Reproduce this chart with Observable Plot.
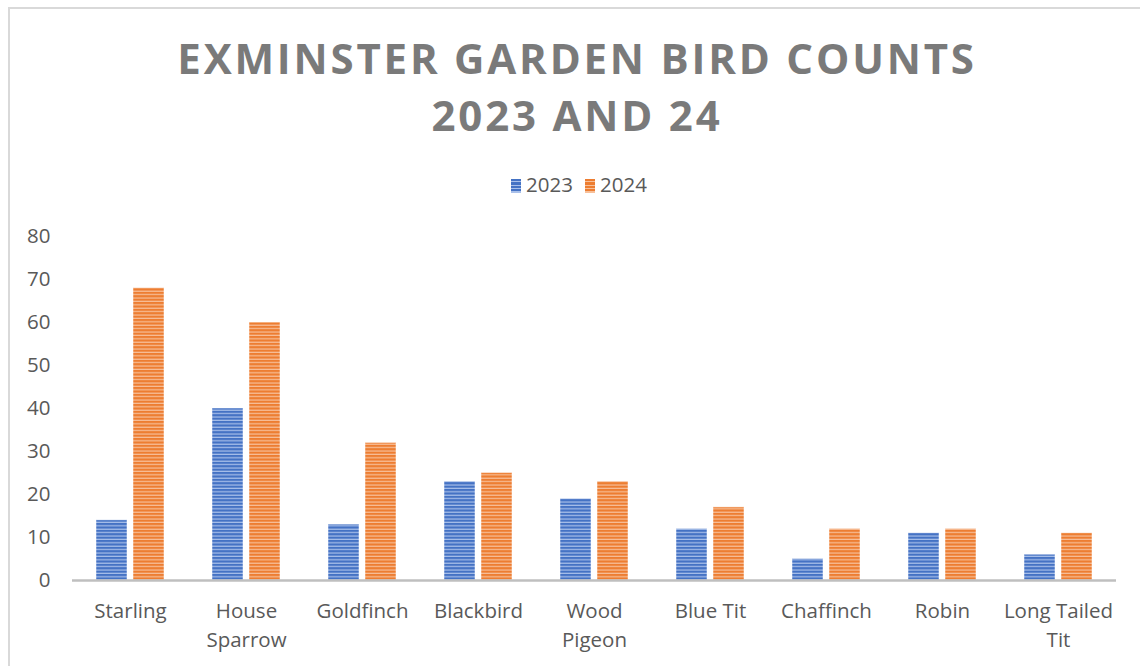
<!DOCTYPE html>
<html>
<head>
<meta charset="utf-8">
<script src="https://cdn.jsdelivr.net/npm/d3@7"></script>
<script src="https://cdn.jsdelivr.net/npm/@observablehq/plot@0.6"></script>
<style>
  html, body { margin: 0; padding: 0; background: #fff; width: 1140px; height: 666px; overflow: hidden; }
  #frame { position: absolute; left: 8px; top: 7px; width: 1200px; height: 700px; border-left: 2px solid #d9d9d9; border-top: 2px solid #d9d9d9; }
  #title { position: absolute; left: 8px; width: 1138px; top: 29px; text-align: center; font-family: "Open Sans", sans-serif; font-weight: 700; font-size: 42px; line-height: 57px; letter-spacing: 2.8px; color: #7a7a7a; }
  #legend { position: absolute; left: 10px; width: 1138px; top: 170px; text-align: center; font-family: "Open Sans", sans-serif; font-size: 20.5px; color: #595959; line-height: 28px; }
  #legend span.sw { display: inline-block; width: 10px; height: 14px; margin-right: 5px; vertical-align: -1px; }
  #legend span.item { margin: 0 6px; }
  #chart { position: absolute; left: 0; top: 200px; }
</style>
</head>
<body>
<div id="frame"></div>
<div id="title">EXMINSTER GARDEN BIRD COUNTS<br>2023 AND 24</div>
<div id="legend"></div>
<div id="chart"></div>
<script>
const categories = ["Starling", "House Sparrow", "Goldfinch", "Blackbird", "Wood Pigeon", "Blue Tit", "Chaffinch", "Robin", "Long Tailed Tit"];
const xLabels = ["Starling", "House\nSparrow", "Goldfinch", "Blackbird", "Wood\nPigeon", "Blue Tit", "Chaffinch", "Robin", "Long Tailed\nTit"];
const series = ["2023", "2024"];
const values2023 = [14, 40, 13, 23, 19, 12, 5, 11, 6];
const values2024 = [68, 60, 32, 25, 23, 17, 12, 12, 11];
const yTicks = [0, 10, 20, 30, 40, 50, 60, 70, 80];
const colors = ["#4472C4", "#ED7D31"];
const lightColors = ["#A9C0EA", "#F7C09A"];

const table = [];
categories.forEach((c, i) => {
  table.push({bird: c, year: series[0], count: values2023[i]});
  table.push({bird: c, year: series[1], count: values2024[i]});
});
const labelOf = new Map(categories.map((c, i) => [c, xLabels[i]]));

const plot = Plot.plot({
  width: 1140,
  height: 466,
  marginLeft: 70,
  marginRight: 23,
  marginTop: 36,
  marginBottom: 86,
  style: {fontFamily: "'Open Sans', sans-serif", fontSize: "20px", color: "#595959", background: "transparent"},
  fx: {domain: categories, padding: 0, label: null},
  x: {domain: series, paddingInner: 0.162, paddingOuter: 0.648, axis: null},
  y: {domain: [0, 80], label: null},
  color: {domain: series, range: ["url(#stripe0)", "url(#stripe1)"]},
  marks: [
    Plot.barY(table, {fx: "bird", x: "year", y: "count", fill: "year", stroke: "#ffffff", strokeOpacity: 0.6, strokeWidth: 0.8}),
    Plot.axisY({ticks: yTicks, tickSize: 0, tickPadding: 22, fontSize: 20.5, fill: "#595959", label: null}),
    Plot.axisFx({anchor: "bottom", tickSize: 0, tickPadding: 17, fontSize: 20.5, fill: "#595959", lineHeight: 1.42, tickFormat: d => labelOf.get(d), label: null}),
    Plot.ruleY([0], {stroke: "#bfbfbf", strokeWidth: 2.5})
  ]
});

// stripe patterns
const svg = d3.select(plot);
const defs = svg.insert("defs", ":first-child");
colors.forEach((c, i) => {
  const p = defs.append("pattern").attr("id", "stripe" + i).attr("patternUnits", "userSpaceOnUse").attr("width", 6).attr("height", 3.4);
  p.append("rect").attr("width", 6).attr("height", 3.4).attr("fill", c);
  p.append("rect").attr("y", 2.2).attr("width", 6).attr("height", 1.2).attr("fill", lightColors[i]);
});
document.getElementById("chart").appendChild(plot);

// legend
const legend = d3.select("#legend");
series.forEach((s, i) => {
  const item = legend.append("span").attr("class", "item");
  item.append("span").attr("class", "sw").style("background", `repeating-linear-gradient(180deg, ${colors[i]} 0px, ${colors[i]} 2.2px, ${lightColors[i]} 2.2px, ${lightColors[i]} 3.4px)`);
  item.append("span").text(s);
});
</script>
</body>
</html>
